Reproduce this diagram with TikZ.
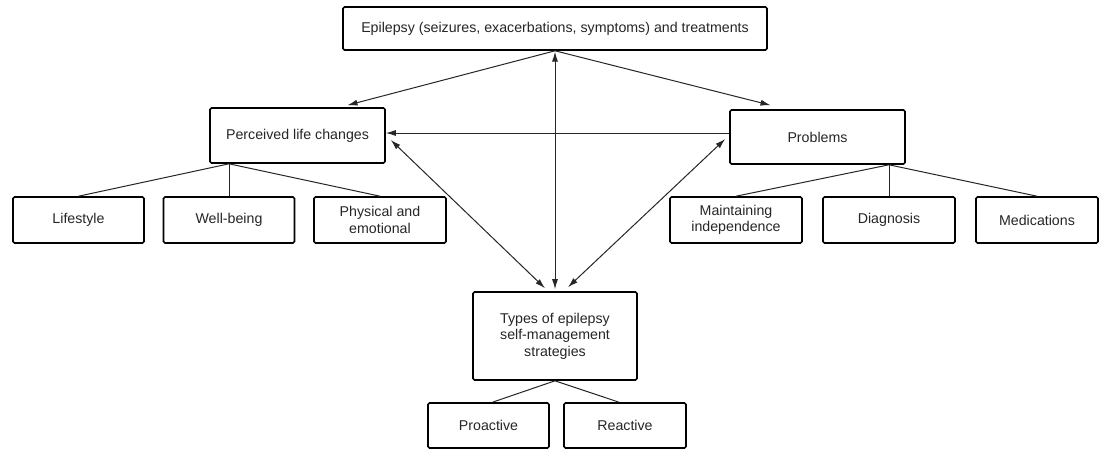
\documentclass[tikz,border=0pt]{standalone}
\usepackage{fontspec}
\setmainfont{Liberation Sans}
\usetikzlibrary{arrows.meta,calc}
\begin{document}
\begin{tikzpicture}[x=1pt,y=-1pt,
  box/.style={draw, line width=1.6pt, rounded corners=1.5pt, align=center, inner sep=0pt,
    font=\fontsize{14.2}{16.5}\selectfont, text=black!85},
  conn/.style={line width=1pt, draw=black!85},
  arr/.style={conn, -{Latex[length=10pt,width=6pt]}},
  darr/.style={conn, {Latex[length=10pt,width=6pt]}-{Latex[length=10pt,width=6pt]}}]
\useasboundingbox[fill=white] (0,0) rectangle (1102,451);
\node[box, minimum width=424pt, minimum height=43pt] (top) at (555,28.5) {Epilepsy (seizures, exacerbations, symptoms) and treatments};
\node[box, minimum width=175pt, minimum height=55pt] (perc) at (297.5,135.5) {Perceived life changes};
\node[box, minimum width=175pt, minimum height=54pt] (prob) at (817.5,137) {Problems};
\node[box, minimum width=131pt, minimum height=46pt] (life) at (78.5,220) {Lifestyle};
\node[box, minimum width=131pt, minimum height=46pt] (well) at (229,220) {Well-being};
\node[box, minimum width=132pt, minimum height=46pt] (phys) at (380,220) {Physical and\\emotional};
\node[box, minimum width=132pt, minimum height=46pt] (maint) at (736,220) {Maintaining\\independence};
\node[box, minimum width=132pt, minimum height=46pt] (diag) at (889,220) {Diagnosis};
\node[box, minimum width=122pt, minimum height=46pt] (med) at (1037,220) {Medications};
\node[box, minimum width=164pt, minimum height=88pt] (types) at (555,336) {Types of epilepsy\\self-management\\strategies};
\node[box, minimum width=121pt, minimum height=45pt] (pro) at (488.5,425.5) {Proactive};
\node[box, minimum width=122pt, minimum height=45pt] (rea) at (625,425.5) {Reactive};
% arrows
\draw[arr] (top.south) -- ([xshift=50pt,yshift=2pt]perc.north);
\draw[arr] (top.south) -- ([xshift=-47pt,yshift=4pt]prob.north);
\draw[arr] ([yshift=4pt]prob.west) -- ([yshift=4pt]prob.west -| perc.east);
\draw[darr] ([yshift=-0.8pt]top.south) -- ([yshift=2pt]types.north);
\draw[darr] ([xshift=5pt,yshift=-4.5pt]perc.east) -- ([xshift=-10pt,yshift=3pt]types.north);
\draw[darr] ([xshift=13pt,yshift=4pt]types.north) -- ([xshift=-4pt,yshift=-2pt]prob.west);
% trees
\coordinate (pj) at (perc.south -| well.north);
\draw[conn] (pj) -- (life.north);
\draw[conn] (pj) -- (well.north);
\draw[conn] (pj) -- (phys.north);
\coordinate (qj) at (prob.south -| diag.north);
\draw[conn] (qj) -- (maint.north);
\draw[conn] (qj) -- (diag.north);
\draw[conn] (qj) -- (med.north);
\draw[conn] (types.south) -- ([xshift=4pt]pro.north);
\draw[conn] (types.south) -- ([xshift=-6pt]rea.north);
\end{tikzpicture}
\end{document}
